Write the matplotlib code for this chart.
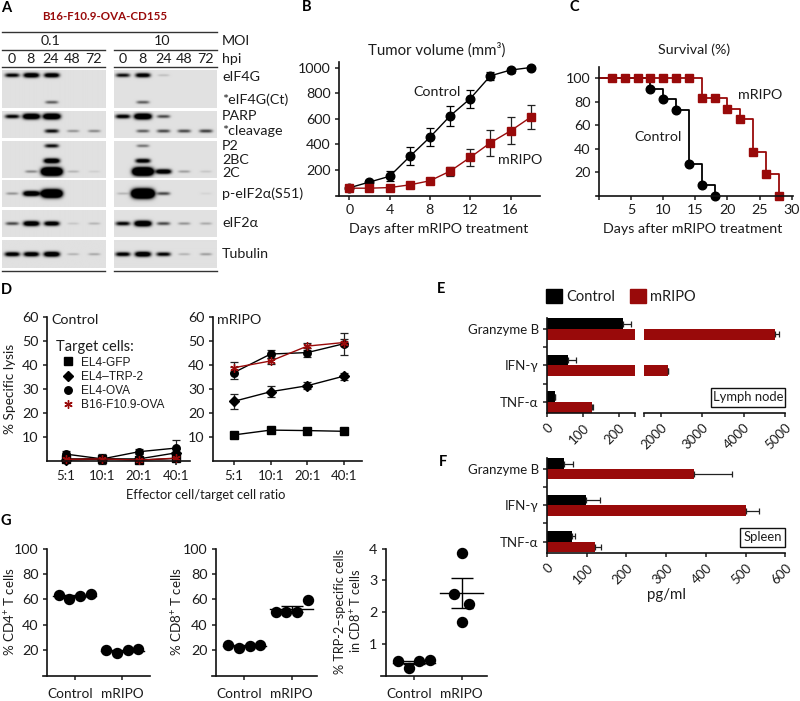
import numpy as np
import matplotlib
matplotlib.use('Agg')
import matplotlib.pyplot as plt
from matplotlib.patches import Rectangle, Patch
from matplotlib.transforms import ScaledTranslation

W, H = 800, 701
RED = '#990a0a'
INK = '#1c1c1c'
plt.rcParams['font.family'] = ['Lato', 'DejaVu Sans']
plt.rcParams['mathtext.default'] = 'regular'
plt.rcParams['font.size'] = 10.3
plt.rcParams['text.color'] = INK
plt.rcParams['axes.labelcolor'] = INK
plt.rcParams['xtick.color'] = INK
plt.rcParams['ytick.color'] = INK

# Panel A: blots, band strength per lane (0, 8, 24, 48, 72 hpi) for MOI 0.1 / MOI 10
hpi = ['0', '8', '24', '48', '72']
gel_rows = [(70.7, 108.3), (111, 137.7), (140.7, 177.7), (180.7, 207.3), (210.7, 237.3), (240.3, 267.7)]
blot_bands = [
    (0, 75.7, [1.1, 1.5, 1.4, 0, 0], [1.0, 1.3, 0.15, 0, 0]),
    (0, 102.7, [0, 0, 0.6, 0, 0], [0, 0.6, 0, 0, 0]),
    (1, 116.2, [1.1, 1.9, 2.0, 0, 0], [1.2, 2.0, 0.7, 0, 0]),
    (1, 130.8, [0, 0, 1.0, 0.35, 0.4], [0, 0.6, 0.7, 0.7, 0.75]),
    (2, 145.3, [0, 0, 1.0, 0, 0], [0, 0.5, 0, 0, 0]),
    (2, 160.3, [0, 0, 1.6, 0, 0], [0, 1.3, 0, 0, 0]),
    (2, 171, [0, 0.4, 3.0, 0.2, 0.08], [0, 3.0, 1.5, 0.3, 0.12]),
    (3, 194, [0.35, 1.7, 3.0, 0, 0], [0.2, 3.5, 0.7, 0, 0.06]),
    (4, 224, [0.7, 1.6, 1.4, 0.12, 0.2], [1.1, 1.9, 0.7, 0.35, 0.25]),
    (5, 254, [1.3, 1.4, 1.6, 0.2, 0.25], [1.2, 1.6, 1.1, 0.2, 0.3]),
]
blot_labels = ['MOI', 'hpi', 'eIF4G', '*eIF4G(Ct)', 'PARP', '*cleavage', 'P2', '2BC', '2C',
               'p-eIF2\u03b1(S51)', 'eIF2\u03b1', 'Tubulin']
blot_label_y = [41, 59, 76.7, 100, 116, 131, 146, 160, 173, 194, 223, 254]

# Panel B
days_b = [0, 2, 4, 6, 8, 10, 12, 14, 16, 18]
tumor_control = [60, 105, 150, 305, 455, 622, 757, 935, 980, 1000]
tumor_control_err = [0, 15, 40, 70, 70, 80, 70, 30, 20, 10]
tumor_mripo = [57, 57, 62, 83, 115, 190, 298, 412, 505, 612]
tumor_mripo_err = [10, 10, 15, 15, 20, 35, 65, 100, 105, 95]

# Panel C
surv_control_x = [0, 8, 10, 12, 14, 16, 18]
surv_control = [100, 91, 82, 73, 27, 9, 0]
surv_mripo_x = [0, 2, 4, 6, 8, 10, 12, 14, 16, 18, 20, 22, 24, 26, 28]
surv_mripo = [100, 100, 100, 100, 100, 100, 100, 100, 83, 83, 74, 65, 37, 18.5, 0]

# Panel D
ratios = ['5:1', '10:1', '20:1', '40:1']
lysis_control = {
    'EL4-GFP': ([1, 1, 0.5, 1.2], [0.5, 0.5, 0.5, 0.8]),
    'EL4\u2013TRP-2': ([0.5, 1, 1, 3.5], [0.5, 0.8, 1, 1.5]),
    'EL4-OVA': ([3, 1, 4, 5.5], [1.5, 2, 1, 3.4]),
    'B16-F10.9-OVA': ([0.8, 1, 0.5, 1.3], [0.5, 0.5, 0.4, 0.6]),
}
lysis_mripo = {
    'EL4-GFP': ([11, 13, 12.8, 12.5], [1, 1, 1, 1]),
    'EL4\u2013TRP-2': ([25, 29, 31.5, 35.5], [3, 2.3, 1.5, 1.5]),
    'EL4-OVA': ([37, 44.7, 45.3, 49], [2.5, 1.8, 2, 4.5]),
    'B16-F10.9-OVA': ([39, 41.8, 48, 49.5], [2.3, 1.3, 1.5, 1.5]),
}
lysis_markers = {'EL4-GFP': 's', 'EL4\u2013TRP-2': 'D', 'EL4-OVA': 'o', 'B16-F10.9-OVA': (6, 2, 0)}

# Panels E, F
cytokines = ['Granzyme B', 'IFN-\u03b3', 'TNF-\u03b1']
lymph_control = [213, 60, 22]
lymph_control_err = [22, 20, 0]
lymph_mripo = [4750, 2170, 127]
lymph_mripo_err = [90, 15, 2]
spleen_control = [43, 97, 62]
spleen_control_err = [22, 36, 8]
spleen_mripo = [370, 500, 120]
spleen_mripo_err = [95, 35, 15]

# Panel G
cd4_control = [63.5, 60.5, 62.5, 64]
cd4_mripo = [20, 17.5, 20, 21]
cd8_control = [24, 22, 23.5, 24]
cd8_mripo = [50, 50, 50, 59.5]
trp2_control = [0.45, 0.25, 0.45, 0.48]
trp2_mripo = [2.58, 3.87, 2.27, 1.68]


def panel(left, top, right, bottom, xlim, ylim):
    # axes placed by pixel box of the reference
    ax = fig.add_axes([left / W, 1 - bottom / H, (right - left) / W, (bottom - top) / H])
    ax.set_xlim(xlim)
    ax.set_ylim(ylim)
    ax.patch.set_alpha(0)
    for s in ['top', 'right']:
        ax.spines[s].set_visible(False)
    for s in ['left', 'bottom']:
        ax.spines[s].set_linewidth(1.2)
        ax.spines[s].set_color('#111111')
    ax.tick_params(width=1.1, length=3, pad=3, labelsize=10.3)
    return ax


fig = plt.figure(figsize=(W / 100, H / 100), dpi=100)
over = fig.add_axes([0, 0, 1, 1], zorder=10)
over.patch.set_alpha(0)
over.axis('off')


def put(x, y, s, **kw):
    kw.setdefault('ha', 'center')
    kw.setdefault('va', 'center')
    over.text(x, y, s, **kw)


# ---- A: blots
lanes = [[11.7, 30.7, 51, 72.3, 93.3], [122.7, 142.7, 163.3, 184, 205.7]]
sides = [(1.7, 105), (114, 216.7)]
for r, (top, bottom) in enumerate(gel_rows):
    for k, (x0, x1) in enumerate(sides):
        xx, yy = np.meshgrid(np.arange(x0, x1, 0.5), np.arange(top, bottom, 0.5))
        dark = np.zeros(xx.shape)
        for row, yc, left_i, right_i in blot_bands:
            if row != r:
                continue
            vals = left_i if k == 0 else right_i
            for lx, v in zip(lanes[k], vals):
                if v > 0:
                    wx = 5.5 + 1.5 * v
                    sy = 1 + 0.9 * v
                    dark += v * np.exp(-((xx - lx) / wx) ** 4) * np.exp(-((yy - yc) / sy) ** 2)
        img = 0.88 * (1 - np.clip(dark, 0, 1))
        over.imshow(img, cmap='gray', vmin=0, vmax=1, extent=(x0, x1, bottom, top),
                    aspect='auto', interpolation='bilinear')
over.plot([1.7, 216.7], [32.3, 32.3], color='#333333', lw=1)
for x0, x1 in sides:
    for y in [50, 67, 271.3]:
        over.plot([x0, x1], [y, y], color='#333333', lw=1)
put(51, 41, '0.1')
put(162, 41, '10')
for k in range(2):
    for lx, h in zip(lanes[k], hpi):
        put(lx, 59, h)
for lab, y in zip(blot_labels, blot_label_y):
    put(222, y, lab, ha='left')
put(105, 16, 'B16-F10.9-OVA-CD155', color=RED, fontweight='bold', fontsize=8.3)
for lab, x, y in [('A', 6, 8), ('B', 307, 7), ('C', 574, 7), ('D', 6, 290), ('E', 441, 289),
                  ('F', 443, 462), ('G', 6, 521)]:
    put(x, y, lab, fontweight='bold', fontsize=10.5, color='black')

# ---- B
axb = panel(336, 62, 540, 196, (-1.32, 18.92), (-4, 1043))
axb.spines['left'].set_position(('data', -1.02))
axb.errorbar(days_b, tumor_control, yerr=tumor_control_err, color='black', marker='o', ms=6.2,
             lw=1, capsize=3, elinewidth=0.9, capthick=0.9, clip_on=False)
axb.errorbar(days_b, tumor_mripo, yerr=tumor_mripo_err, color=RED, marker='s', ms=5.6,
             lw=1, ecolor='#222222', capsize=3, elinewidth=0.9, capthick=0.9, clip_on=False)
axb.set_xticks([0, 4, 8, 12, 16])
axb.set_yticks([200, 400, 600, 800, 1000])
put(437, 50, 'Tumor volume (mm\u00b3)', fontsize=10.8)
put(439, 229, 'Days after mRIPO treatment')
put(437, 92, 'Control')
put(520, 160, 'mRIPO')

# ---- C
axc = panel(596, 67, 793, 196, (-0.47, 30.2), (-0.2, 109.5))
axc.spines['left'].set_position(('data', 0))
axc.step(surv_control_x, surv_control, where='post', color='black', lw=1.3, clip_on=False)
axc.plot(surv_control_x[1:], surv_control[1:], 'o', color='black', ms=6.2, clip_on=False)
axc.step(surv_mripo_x, surv_mripo, where='post', color=RED, lw=1.3, clip_on=False)
axc.plot(surv_mripo_x[1:], surv_mripo[1:], 's', color=RED, ms=6.2, clip_on=False)
axc.set_xticks([0, 5, 10, 15, 20, 25, 30], ['', '5', '10', '15', '20', '25', '30'])
axc.set_yticks([20, 40, 60, 80, 100])
put(694, 50, 'Survival (%)')
put(693, 229, 'Days after mRIPO treatment')
put(760, 95, 'mRIPO')
put(658, 137, 'Control')

# ---- D
for left, right, first, data, name in [(47, 190, 65.7, lysis_control, 'Control'),
                                       (213, 362, 234, lysis_mripo, 'mRIPO')]:
    axd = panel(left, 317.3, right, 461.3, ((left - first) / 36.67, (right - first) / 36.67), (0, 60))
    for key, (vals, errs) in data.items():
        red = key.startswith('B16')
        col = RED if red else 'black'
        axd.errorbar(range(4), vals, yerr=errs, color=col, marker=lysis_markers[key],
                     ms=6 if red else 5.4, lw=1, capsize=3, elinewidth=0.9, capthick=0.9,
                     clip_on=False, label=key, ecolor='#222222')
    axd.set_xticks(range(4), ratios, fontsize=9.5)
    axd.set_yticks([10, 20, 30, 40, 50, 60])
    put(left + 4, 320, name, ha='left')
    if name == 'Control':
        handles, labels = axd.get_legend_handles_labels()
        plain = [plt.Line2D([], [], ls='', marker=lysis_markers[k], color=RED if k.startswith('B16') else 'black',
                            ms=6 if k.startswith('B16') else 5.4) for k in labels]
        leg = axd.legend(plain, labels, title='Target cells:', frameon=False, loc='upper left',
                         bbox_to_anchor=(0.06, 0.84), borderaxespad=0, borderpad=0, handletextpad=0.1,
                         labelspacing=0.19, prop={'family': 'Liberation Sans', 'size': 8.6},
                         title_fontproperties={'family': 'Lato', 'size': 10.5})
        leg._legend_box.align = 'left'
put(10, 389, '% Specific lysis', rotation=90, fontsize=9.8)
put(206, 495, 'Effector cell/target cell ratio', fontsize=9.3)

# ---- E (broken x axis)
cat_pos = np.arange(3)
bar_h = 0.29
ax_e1 = panel(547, 318, 634.7, 413.3, (0, 245), (2.31, -0.30))
ax_e2 = panel(644, 318, 785.3, 413.3, (1600, 5000), (2.31, -0.30))
for ax in [ax_e1, ax_e2]:
    ax.barh(cat_pos - bar_h / 2, lymph_control, bar_h, color='black')
    ax.barh(cat_pos + bar_h / 2, lymph_mripo, bar_h, color=RED)
    ax.errorbar(lymph_control, cat_pos - bar_h / 2, xerr=[np.zeros(3), lymph_control_err], ls='', color='#222222',
                capsize=2.2, elinewidth=0.9, capthick=0.9)
    ax.errorbar(lymph_mripo, cat_pos + bar_h / 2, xerr=[np.zeros(3), lymph_mripo_err], ls='', color='#222222',
                capsize=2.2, elinewidth=0.9, capthick=0.9)
ax_e1.set_xticks([0, 100, 200, 245], ['0', '100', '200', ''])
ax_e2.set_xticks([1600, 2000, 3000, 4000, 5000], ['', '2000', '3000', '4000', '5000'])
ax_e2.spines['left'].set_visible(False)
ax_e2.set_yticks([])
ax_e1.set_yticks([0, 0.5, 1, 1.5, 2], [cytokines[0], '', cytokines[1], '', cytokines[2]], fontsize=9.5)
for ax in [ax_e1, ax_e2]:
    ax.tick_params(axis='x', labelrotation=45, labelsize=9.5)
    for t in ax.get_xticklabels():
        t.set_ha('right')
        t.set_rotation_mode('anchor')
over.add_patch(Rectangle((711.3, 387.7), 74, 19, fc='white', ec='#111111', lw=1))
put(748.3, 397, 'Lymph node', fontsize=9.4)
fig.legend(handles=[Patch(color='black', label='Control'), Patch(color=RED, label='mRIPO')], ncol=2, frameon=False,
           loc='center left', bbox_to_anchor=(546 / W, 1 - 296.5 / H), borderpad=0, borderaxespad=0,
           handlelength=1.1, handleheight=1.1, handletextpad=0.28, columnspacing=1.0, fontsize=10.5)

# ---- F
axf = panel(547, 458, 785.3, 553.3, (0, 600), (2.32, -0.30))
axf.barh(cat_pos - bar_h / 2, spleen_control, bar_h, color='black')
axf.barh(cat_pos + bar_h / 2, spleen_mripo, bar_h, color=RED)
axf.errorbar(spleen_control, cat_pos - bar_h / 2, xerr=[np.zeros(3), spleen_control_err], ls='', color='#222222',
             capsize=2.2, elinewidth=0.9, capthick=0.9)
axf.errorbar(spleen_mripo, cat_pos + bar_h / 2, xerr=[np.zeros(3), spleen_mripo_err], ls='', color='#222222',
             capsize=2.2, elinewidth=0.9, capthick=0.9)
axf.set_xticks(range(0, 601, 100))
axf.set_yticks([0, 0.5, 1, 1.5, 2], [cytokines[0], '', cytokines[1], '', cytokines[2]], fontsize=9.5)
axf.tick_params(axis='x', labelrotation=45, labelsize=9.5)
for t in axf.get_xticklabels():
    t.set_ha('right')
    t.set_rotation_mode('anchor')
over.add_patch(Rectangle((740, 527.7), 45.3, 19.3, fc='white', ec='#111111', lw=1))
put(762.6, 537, 'Spleen', fontsize=9.4)
put(666, 595, 'pg/ml', fontsize=10.8)

# ---- G
offsets = np.array([-0.338, -0.113, 0.113, 0.338])
spread = np.array([-0.16, 0, 0.16, 0])
g_panels = [
    (43, 150, 47, 74.7, cd4_control, cd4_mripo, (0, 100), [20, 40, 60, 80, 100], offsets),
    (211.7, 316.7, 216, 244.3, cd8_control, cd8_mripo, (0, 100), [20, 40, 60, 80, 100], offsets),
    (381, 487, 385.7, 414, trp2_control, trp2_mripo, (0, 3.97), [1, 2, 3, 4], spread),
]
for left, right, spine_x, first, ctrl, mrip, ylim, yt, mripo_off in g_panels:
    axg = panel(left, 548.7, right, 675.5, ((left - first) / 47.5, (right - first) / 47.5), ylim)
    axg.spines['left'].set_position(('data', (spine_x - first) / 47.5))
    for pos, vals, off in [(0, ctrl, offsets), (1, mrip, mripo_off)]:
        axg.plot(pos + off, vals, 'o', color='black', ms=7.2, clip_on=False, ls='')
        m = np.mean(vals)
        sem = np.std(vals, ddof=1) / np.sqrt(len(vals))
        axg.plot([pos - 0.45, pos + 0.45], [m, m], color='black', lw=1)
        axg.errorbar([pos], [m], yerr=[sem], color='black', capsize=7.9, elinewidth=1, capthick=1)
    axg.set_xticks([0, 1], ['Control', 'mRIPO'])
    axg.set_yticks(yt)
    axg.tick_params(axis='x', pad=6, labelsize=9.8)
    # Control label sits a little left of its tick in the reference
    lab0 = axg.get_xticklabels()[0]
    lab0.set_transform(lab0.get_transform() + ScaledTranslation(-5 / 100, 0, fig.dpi_scale_trans))
put(10, 612, '% CD4$^{+}$ T cells', rotation=90, fontsize=9.6)
put(177, 612, '% CD8$^{+}$ T cells', rotation=90, fontsize=9.6)
put(349, 611, '% TRP-2\u2013specific cells\nin CD8$^{+}$ T cells', rotation=90, linespacing=1.15, fontsize=9.2)

over.set_xlim(0, W)
over.set_ylim(H, 0)
fig.savefig('out.png', dpi=100)
